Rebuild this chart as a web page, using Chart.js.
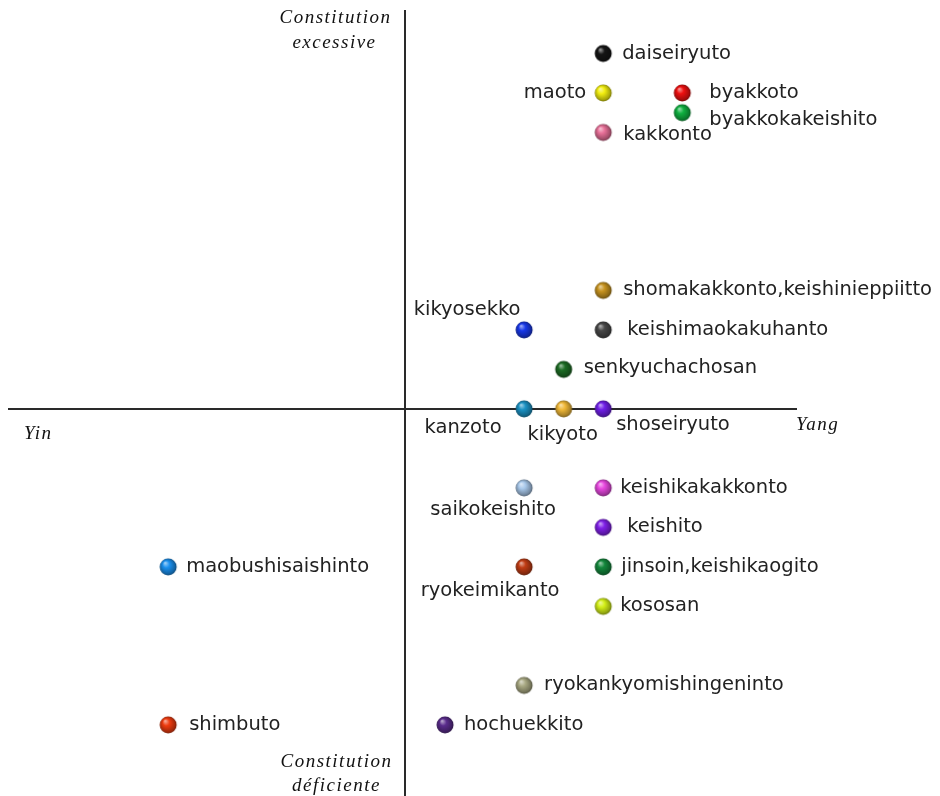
<!DOCTYPE html>
<html>
<head>
<meta charset="utf-8">
<script src="https://cdn.jsdelivr.net/npm/chart.js@4"></script>
<style>
  html, body { margin: 0; padding: 0; background: #fff; overflow: hidden; }
</style>
</head>
<body>
<canvas id="chart-area" width="940" height="796"></canvas>
<script>
// formulas and where they sit on the yin/yang x constitution plane
const formulaNames = [
  "daiseiryuto", "maoto", "byakkoto", "byakkokakeishito", "kakkonto",
  "shomakakkonto,keishinieppiitto", "kikyosekko", "keishimaokakuhanto", "senkyuchachosan",
  "kanzoto", "kikyoto", "shoseiryuto",
  "saikokeishito", "keishikakakkonto", "keishito", "maobushisaishinto", "ryokeimikanto",
  "jinsoin,keishikaogito", "kososan", "ryokankyomishingeninto", "shimbuto", "hochuekkito"
];
const yinYang = [5, 5, 7, 7, 5, 5, 3, 5, 4, 3, 4, 5, 3, 5, 5, -6, 3, 5, 5, 3, -6, 1];
const constitution = [9, 8, 8, 7.5, 7, 3, 2, 2, 1, 0, 0, 0, -2, -2, -3, -4, -4, -4, -5, -7, -8, -8];
const xRange = [-10.05, 9.9];
const yRange = [-9.8, 10.1];

const ballColors = [
  "#151515", "#f2ee10", "#ee1010", "#10b040", "#e87098",
  "#c89420", "#1838e8", "#474747", "#1c6c24",
  "#1b92c4", "#f0b838", "#7020e8",
  "#a8c8ea", "#e848e0", "#8020e8", "#1a90ee", "#c03c14",
  "#14883c", "#d4f018", "#a8a882", "#ee3c10", "#5a2c8c"
];

// label placement: [dx, dy, align]
const labelSpots = [
  [19, 0, "left"], [-17, 0, "right"], [27, 0, "left"], [27, 7, "left"], [20, 2, "left"],
  [20, 0, "left"], [-57, -20, "center"], [24, 0, "left"], [20, -1, "left"],
  [-61, 19, "center"], [-1, 26, "center"], [13, 16, "left"],
  [-31, 22, "center"], [17, 0, "left"], [24, 0, "left"], [18, 0, "left"], [-34, 24, "center"],
  [18, 0, "left"], [17, 0, "left"], [20, 0, "left"], [21, 0, "left"], [19, 0, "left"]
];

function shade(hex, amt) {
  let n = parseInt(hex.slice(1), 16);
  let r = (n >> 16) & 255, g = (n >> 8) & 255, b = n & 255;
  const f = (c) => amt >= 0 ? Math.round(c + (255 - c) * amt) : Math.round(c * (1 + amt));
  return `rgb(${f(r)},${f(g)},${f(b)})`;
}

// glossy ball marker
function makeBall(color) {
  const c = document.createElement("canvas");
  c.width = 20; c.height = 20;
  const g = c.getContext("2d");
  const grad = g.createRadialGradient(7, 6, 0.5, 10, 10, 9);
  grad.addColorStop(0, shade(color, 0.55));
  grad.addColorStop(0.35, color);
  grad.addColorStop(0.8, shade(color, -0.3));
  grad.addColorStop(1, shade(color, -0.55));
  g.beginPath();
  g.arc(10, 10, 8.5, 0, Math.PI * 2);
  g.fillStyle = grad;
  g.fill();
  return c;
}
const balls = ballColors.map(makeBall);

const labelPlugin = {
  id: "pointLabels",
  afterDatasetsDraw(chart) {
    const ctx = chart.ctx;
    const meta = chart.getDatasetMeta(0);
    ctx.save();
    ctx.font = "19.5px 'DejaVu Sans'";
    ctx.fillStyle = "#222";
    ctx.textBaseline = "middle";
    meta.data.forEach((pt, i) => {
      const s = labelSpots[i];
      ctx.textAlign = s[2];
      ctx.fillText(formulaNames[i], pt.x + s[0], pt.y + s[1]);
    });
    ctx.restore();
  }
};

const axisTitlePlugin = {
  id: "axisTitles",
  afterDraw(chart) {
    const ctx = chart.ctx;
    const a = chart.chartArea;
    const x0 = chart.scales.x.getPixelForValue(0);
    const y0 = chart.scales.y.getPixelForValue(0);
    ctx.save();
    ctx.font = "italic 19px 'Liberation Serif'";
    ctx.letterSpacing = "1.5px";
    ctx.fillStyle = "#111";
    ctx.textBaseline = "middle";
    ctx.textAlign = "center";
    ctx.fillText("Constitution", x0 - 70, a.top + 8);
    ctx.fillText("excessive", x0 - 71, a.top + 33);
    ctx.fillText("Constitution", x0 - 69, a.bottom - 34);
    ctx.fillText("déficiente", x0 - 69, a.bottom - 10);
    ctx.textAlign = "left";
    ctx.fillText("Yin", a.left + 16, y0 + 25);
    ctx.fillText("Yang", a.right - 1, y0 + 16);
    ctx.restore();
  }
};

const zeroLine = (ctx) => (ctx.tick && ctx.tick.value === 0 ? "#2a2a2a" : "rgba(0,0,0,0)");

new Chart("chart-area", {
  type: "scatter",
  data: {
    datasets: [
      {
        data: yinYang.map((v, i) => ({ x: v, y: constitution[i] })),
        pointStyle: balls,
        pointRadius: 9,
        pointHoverRadius: 9,
      },
    ],
  },
  options: {
    responsive: false,
    animation: false,
    layout: { autoPadding: false, padding: { left: 8, right: 143, top: 10, bottom: 0 } },
    plugins: { legend: { display: false }, tooltip: { enabled: false } },
    scales: {
      x: {
        min: xRange[0],
        max: xRange[1],
        ticks: { display: false, stepSize: 2 },
        grid: { color: zeroLine, lineWidth: 2, drawTicks: false },
        border: { display: false },
      },
      y: {
        min: yRange[0],
        max: yRange[1],
        ticks: { display: false, stepSize: 2 },
        grid: { color: zeroLine, lineWidth: 2, drawTicks: false },
        border: { display: false },
      },
    },
  },
  plugins: [labelPlugin, axisTitlePlugin],
});
</script>
</body>
</html>
